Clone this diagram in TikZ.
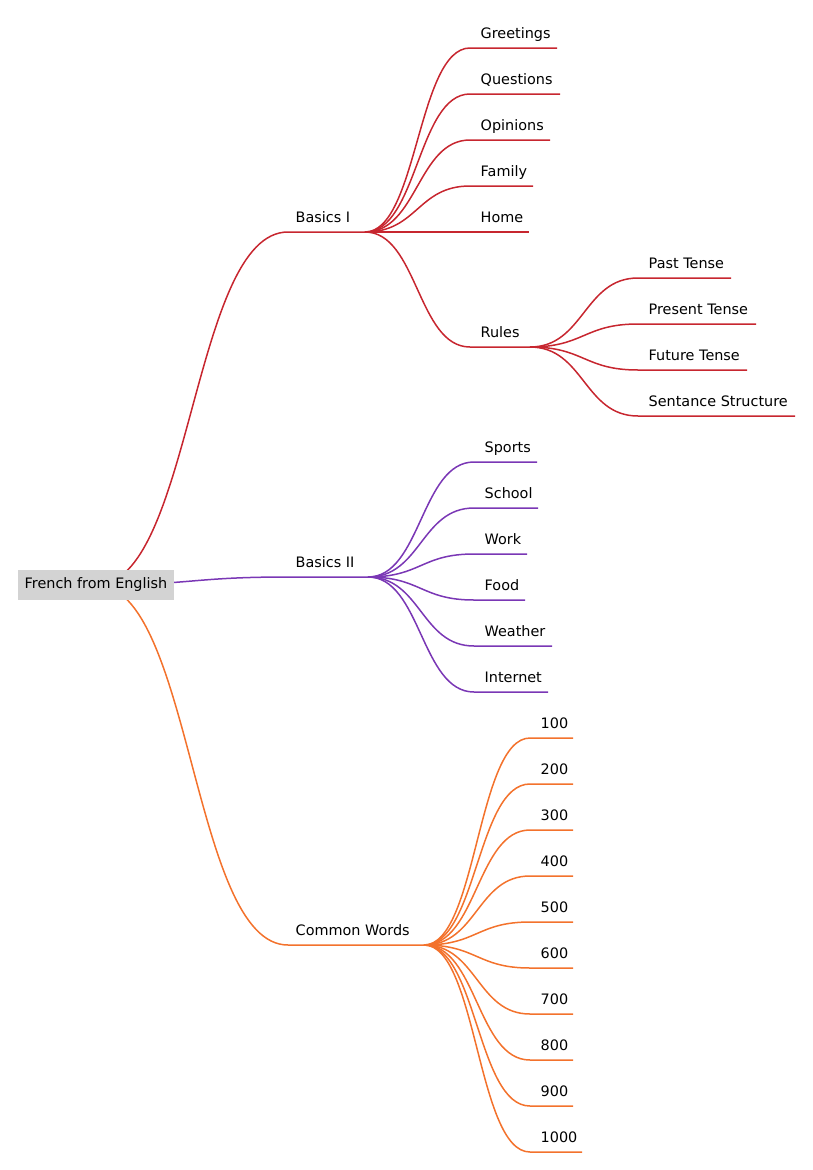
\documentclass[tikz,border=0pt]{standalone}
\usepackage{fontspec}
\setmainfont{DejaVu Sans}
\usetikzlibrary{calc}
\definecolor{cred}{HTML}{C7262F}
\definecolor{cpurple}{HTML}{7A37B5}
\definecolor{corange}{HTML}{F3722C}
\definecolor{rootgray}{HTML}{D3D3D3}
\tikzset{
  link/.style={line width=1.5pt},
  lbl/.style={anchor=base west, inner sep=0pt, font=\fontsize{14.4}{17}\selectfont},
}
\def\mmoff{10.5}
% color, parent, name, x, y, xend, text
\newcommand\mmnode[7]{%
  \coordinate (#3) at (#4,#5);
  \coordinate (#3e) at (#6,#5);
  \draw[link,#1] let \p1=(#2e), \p2=(#3) in (#2e) .. controls ({0.5*\x1+0.5*\x2},\y1) and ({0.5*\x1+0.5*\x2},\y2) .. (#3) -- (#3e);
  \node[lbl] (#3t) at ($(#3)+(\mmoff,-10)$) {#7};
}
\begin{document}
\begin{tikzpicture}[x=1pt,y=-1pt]
\useasboundingbox (0,0) rectangle (813,1170);
\coordinate (roote) at (96,585);
% level 1
\def\mmoff{7.5}
\mmnode{cred}{root}{b1}{288}{232}{365}{Basics I}
\mmnode{cpurple}{root}{b2}{288}{577}{368}{Basics II}
\mmnode{corange}{root}{cw}{288}{945}{424}{Common Words}
\def\mmoff{10.5}
% Basics I
\mmnode{cred}{b1}{greet}{470}{48}{557}{Greetings}
\mmnode{cred}{b1}{quest}{470}{94}{560}{Questions}
\mmnode{cred}{b1}{opin}{470}{140}{550}{Opinions}
\mmnode{cred}{b1}{fam}{470}{186}{533}{Family}
\mmnode{cred}{b1}{home}{470}{232}{529}{Home}
\mmnode{cred}{b1}{rules}{470}{347}{530}{Rules}
\mmnode{cred}{rules}{past}{638}{278}{731}{Past Tense}
\mmnode{cred}{rules}{pres}{638}{324}{756}{Present Tense}
\mmnode{cred}{rules}{fut}{638}{370}{747}{Future Tense}
\mmnode{cred}{rules}{sent}{638}{416}{795}{Sentance Structure}
% Basics II
\mmnode{cpurple}{b2}{sports}{474}{462}{537}{Sports}
\mmnode{cpurple}{b2}{school}{474}{508}{538}{School}
\mmnode{cpurple}{b2}{work}{474}{554}{527}{Work}
\mmnode{cpurple}{b2}{food}{474}{600}{525}{Food}
\mmnode{cpurple}{b2}{weather}{474}{646}{552}{Weather}
\mmnode{cpurple}{b2}{internet}{474}{692}{548}{Internet}
% Common Words
\mmnode{corange}{cw}{w100}{530}{738}{573}{100}
\mmnode{corange}{cw}{w200}{530}{784}{573}{200}
\mmnode{corange}{cw}{w300}{530}{830}{573}{300}
\mmnode{corange}{cw}{w400}{530}{876}{573}{400}
\mmnode{corange}{cw}{w500}{530}{922}{573}{500}
\mmnode{corange}{cw}{w600}{530}{968}{573}{600}
\mmnode{corange}{cw}{w700}{530}{1014}{573}{700}
\mmnode{corange}{cw}{w800}{530}{1060}{573}{800}
\mmnode{corange}{cw}{w900}{530}{1106}{573}{900}
\mmnode{corange}{cw}{w1000}{530}{1152}{582}{1000}
% root
\node[fill=rootgray, inner sep=0pt, minimum width=156pt, minimum height=30pt,
      font=\fontsize{14.4}{17}\selectfont] (root) at (roote) {French from English};
\end{tikzpicture}
\end{document}
